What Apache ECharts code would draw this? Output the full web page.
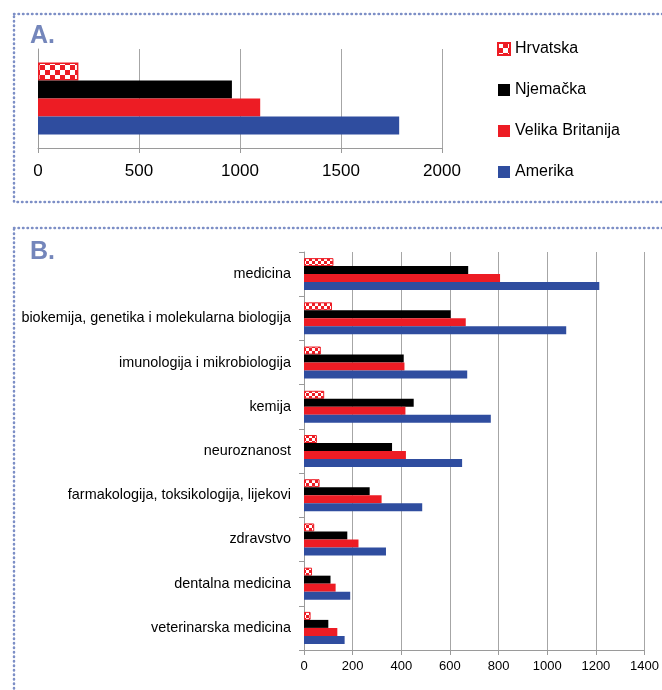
<!DOCTYPE html>
<html>
<head>
<meta charset="utf-8">
<script src="https://cdn.jsdelivr.net/npm/echarts@6/dist/echarts.min.js"></script>
<style>
  html, body { margin: 0; padding: 0; background: #fff; }
  #main { width: 662px; height: 690px; }
</style>
</head>
<body>
<div id="main"></div>
<script>
// zemlje (legenda)
var countries = ["Hrvatska", "Njemačka", "Velika Britanija", "Amerika"];

// A. ukupno po zemlji
var totalA = [200, 960, 1100, 1788];
var ticksA = [0, 500, 1000, 1500, 2000];

// B. po područjima
var categoriesB = [
  "medicina",
  "biokemija, genetika i molekularna biologija",
  "imunologija i mikrobiologija",
  "kemija",
  "neuroznanost",
  "farmakologija, toksikologija, lijekovi",
  "zdravstvo",
  "dentalna medicina",
  "veterinarska medicina"
];
var hrvatskaB = [121, 115, 69, 83, 53, 64, 42, 33, 27];
var njemackaB = [675, 603, 410, 451, 362, 270, 178, 109, 100];
var britanijaB = [806, 665, 413, 417, 419, 319, 224, 130, 137];
var amerikaB = [1214, 1078, 671, 768, 650, 486, 337, 190, 167];
var ticksB = [0, 200, 400, 600, 800, 1000, 1200, 1400];

var dataB = [hrvatskaB, njemackaB, britanijaB, amerikaB];
var colors = [null, "#000000", "#ed1c24", "#2f4d9f"];

// šahovnica
function checker(cell) {
  var c = document.createElement("canvas");
  c.width = cell * 2;
  c.height = cell * 2;
  var ctx = c.getContext("2d");
  ctx.fillStyle = "#ed1c24";
  ctx.fillRect(0, 0, c.width, c.height);
  ctx.fillStyle = "#ffffff";
  ctx.fillRect(0, 0, cell, cell);
  ctx.fillRect(cell, cell, cell, cell);
  return c;
}
var patA = { image: checker(5), repeat: "repeat" };
var patB = { image: checker(3), repeat: "repeat" };

var FONT = "Liberation Sans";
var plain = function (v) { return String(v); };

var series = [];
countries.forEach(function (name, i) {
  series.push({
    name: name,
    type: "bar",
    xAxisIndex: 0,
    yAxisIndex: 0,
    barWidth: 18,
    barGap: "0%",
    data: [totalA[i]],
    itemStyle: i === 0
      ? { color: patA, borderColor: "#ed1c24", borderWidth: 1.5 }
      : { color: colors[i] }
  });
});
countries.forEach(function (name, i) {
  series.push({
    name: name,
    type: "bar",
    xAxisIndex: 1,
    yAxisIndex: 1,
    barWidth: 8,
    barGap: "0%",
    data: dataB[i],
    itemStyle: i === 0
      ? { color: patB, borderColor: "#ed1c24", borderWidth: 1 }
      : { color: colors[i] }
  });
});

var chart = echarts.init(document.getElementById("main"));
var option = {
  animation: false,
  backgroundColor: "#fff",
  textStyle: { fontFamily: FONT },
  graphic: [
    {
      type: "rect",
      shape: { x: 14, y: 14, width: 700, height: 188 },
      style: { fill: null, stroke: "#7d8fc6", lineWidth: 2.5, lineDash: [0.5, 4], lineCap: "round" }
    },
    {
      type: "rect",
      shape: { x: 14, y: 228, width: 700, height: 500 },
      style: { fill: null, stroke: "#7d8fc6", lineWidth: 2.5, lineDash: [0.5, 4], lineCap: "round" }
    },
    {
      type: "text",
      left: 30, top: 24,
      style: { text: "A.", fill: "#7486bb", font: "bold 25px 'Liberation Sans'" }
    },
    {
      type: "text",
      left: 30, top: 240,
      style: { text: "B.", fill: "#7486bb", font: "bold 25px 'Liberation Sans'" }
    }
  ],
  legend: {
    data: countries,
    orient: "vertical",
    left: 497,
    top: 41,
    padding: 0,
    icon: "rect",
    itemWidth: 12,
    itemHeight: 12,
    itemGap: 25,
    textStyle: { fontSize: 16, color: "#000", lineHeight: 16, fontFamily: FONT },
    selectedMode: false
  },
  grid: [
    { left: 38, top: 49, width: 404, height: 99 },
    { left: 304, top: 252, width: 344, height: 398 }
  ],
  xAxis: [
    {
      gridIndex: 0,
      type: "value",
      min: ticksA[0],
      max: ticksA[ticksA.length - 1],
      interval: 500,
      axisLine: { show: true, lineStyle: { color: "#9a9a9a" } },
      axisTick: { show: true, length: 5, lineStyle: { color: "#9a9a9a" } },
      splitLine: { show: true, lineStyle: { color: "#a6a6a6" } },
      axisLabel: { fontSize: 17, color: "#000", margin: 15, formatter: plain }
    },
    {
      gridIndex: 1,
      type: "value",
      min: ticksB[0],
      max: ticksB[ticksB.length - 1],
      interval: 200,
      axisLine: { show: true, lineStyle: { color: "#9a9a9a" } },
      axisTick: { show: true, length: 5, lineStyle: { color: "#9a9a9a" } },
      splitLine: { show: true, lineStyle: { color: "#a6a6a6" } },
      axisLabel: { fontSize: 13, color: "#000", margin: 10, formatter: plain }
    }
  ],
  yAxis: [
    {
      gridIndex: 0,
      type: "category",
      data: [""],
      axisLine: { show: true, lineStyle: { color: "#9a9a9a" } },
      axisTick: { show: false },
      axisLabel: { show: false }
    },
    {
      gridIndex: 1,
      type: "category",
      inverse: true,
      data: categoriesB,
      axisLine: { show: true, lineStyle: { color: "#9a9a9a" } },
      axisTick: { show: true, length: 5, lineStyle: { color: "#9a9a9a" } },
      axisLabel: { fontSize: 14.4, color: "#000", margin: 13 }
    }
  ],
  series: series
};
chart.setOption(option);
</script>
</body>
</html>
